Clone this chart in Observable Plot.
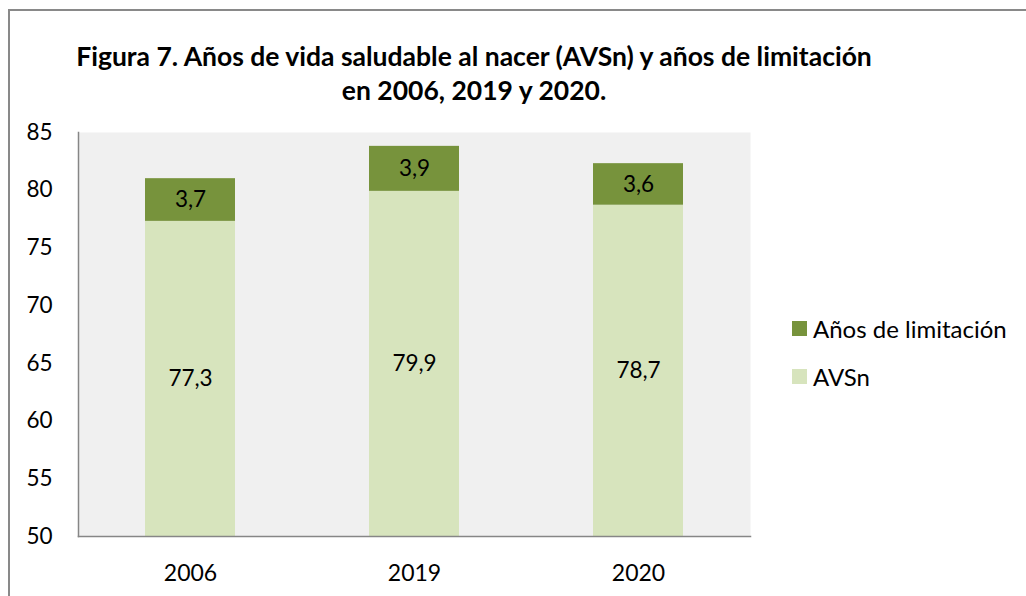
<!DOCTYPE html>
<html>
<head>
<meta charset="utf-8">
<script src="https://cdn.jsdelivr.net/npm/d3@7"></script>
<script src="https://cdn.jsdelivr.net/npm/@observablehq/plot@0.6"></script>
<style>
  body { margin: 0; background: #fff; font-family: Lato, "Open Sans", sans-serif; }
  #wrap { position: relative; width: 1026px; height: 596px; overflow: hidden; background: #fff; }
  #border { position: absolute; left: 8px; top: 9px; width: 1040px; height: 620px; border-left: 2px solid #898989; border-top: 2px solid #898989; box-sizing: border-box; }
  #title { position: absolute; left: 0; width: 948px; top: 39px; text-align: center; font-weight: bold; font-size: 26.5px; line-height: 34px; color: #000; white-space: nowrap; }
  #chart { position: absolute; left: 0; top: 110px; }
  .lg { position: absolute; left: 792px; height: 15px; display: flex; align-items: center; font-size: 24px; color: #000; white-space: nowrap; }
  .lg span.sw { display: inline-block; width: 15px; height: 15px; margin-right: 6px; flex: none; }
</style>
</head>
<body>
<div id="wrap">
  <div id="border"></div>
  <div id="title">Figura 7. Años de vida saludable al nacer (AVSn) y años de limitación<br>en 2006, 2019 y 2020.</div>
  <div id="chart"></div>
  <div id="legend"></div>
</div>
<script>
const years = ["2006", "2019", "2020"];
const avsn = [77.3, 79.9, 78.7];
const limitacion = [3.7, 3.9, 3.6];
const yTicks = [50, 55, 60, 65, 70, 75, 80, 85];
const series = ["Años de limitación", "AVSn"];
const colors = ["#77933c", "#d7e4bd"];
const yDomain = [50, 85];

const fmt = v => d3.format(".1f")(v).replace(".", ",");

const rows = [];
years.forEach((yr, i) => {
  rows.push({year: yr, series: "AVSn", y1: yDomain[0], y2: avsn[i], label: fmt(avsn[i])});
  rows.push({year: yr, series: "Años de limitación", y1: avsn[i], y2: +(avsn[i] + limitacion[i]).toFixed(1), label: fmt(limitacion[i])});
});

const chart = Plot.plot({
  width: 760,
  height: 486,
  marginLeft: 78,
  marginRight: 10,
  marginTop: 22,
  marginBottom: 60,
  x: {domain: years, paddingInner: 0.6, paddingOuter: 0.3, label: null},
  y: {domain: yDomain, label: null},
  color: {domain: series, range: colors},
  style: {fontFamily: "Lato, 'Open Sans', sans-serif", fontSize: "22px", color: "#000", background: "transparent", overflow: "visible"},
  marks: [
    Plot.frame({fill: "#f0f0f0"}),
    Plot.barY(rows, {x: "year", y1: "y1", y2: "y2", fill: "series"}),
    Plot.text(rows, {x: "year", y: d => (d.y1 + d.y2) / 2, text: "label", fontSize: 22.5, fill: "#000"}),
    Plot.axisY({ticks: yTicks, tickSize: 0, tickPadding: 26, label: null, fontSize: 22.5, fill: "#000"}),
    Plot.axisX({tickSize: 0, tickPadding: 28, label: null, fontSize: 23, fill: "#000"}),
    Plot.frame({anchor: "left", stroke: "#868686", strokeWidth: 1.5}),
    Plot.frame({anchor: "bottom", stroke: "#868686", strokeWidth: 1.5})
  ]
});
document.getElementById("chart").appendChild(chart);

const legend = document.getElementById("legend");
const legendTops = [321, 369];
series.forEach((s, i) => {
  const row = document.createElement("div");
  row.className = "lg";
  row.style.top = legendTops[i] + "px";
  const sw = document.createElement("span");
  sw.className = "sw";
  sw.style.background = colors[i];
  const t = document.createElement("span");
  t.textContent = s;
  row.appendChild(sw);
  row.appendChild(t);
  legend.appendChild(row);
});
</script>
</body>
</html>
